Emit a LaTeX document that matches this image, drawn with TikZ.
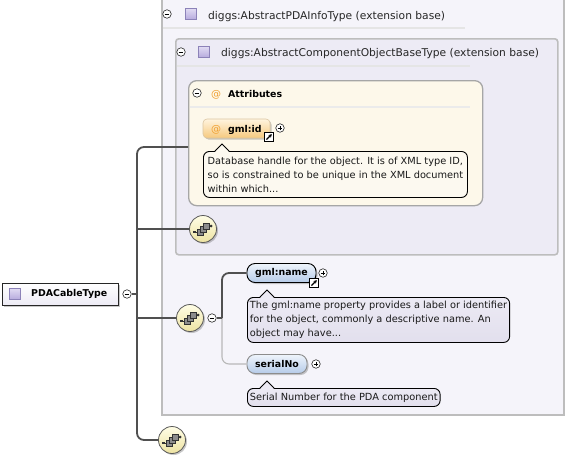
\documentclass[tikz,border=0pt]{standalone}
\usepackage{fontspec}
\setmainfont{DejaVu Sans}
\usetikzlibrary{shadows,arrows.meta}
\definecolor{treegray}{HTML}{505050}
\definecolor{boxgray}{HTML}{BDBDBD}
\definecolor{outerfill}{HTML}{F5F4FA}
\definecolor{innerfill}{HTML}{EDEBF5}
\definecolor{attrfill}{HTML}{FDF8EA}
\definecolor{purptop}{HTML}{E2DCF4}
\definecolor{purpbot}{HTML}{B5A9DC}
\definecolor{purpbord}{HTML}{8C82B8}
\definecolor{seqtop}{HTML}{FFFDE6}
\definecolor{seqbot}{HTML}{EDE3A2}
\definecolor{bluetop}{HTML}{EEF4FC}
\definecolor{bluebot}{HTML}{B6CBE8}
\definecolor{orangetop}{HTML}{FFF4DE}
\definecolor{orangebot}{HTML}{F6C97E}
\definecolor{atcolor}{HTML}{F0A030}
\definecolor{tipcream}{HTML}{FCF9F0}
\definecolor{tiplav}{HTML}{ECEAF4}
\definecolor{tiplavb}{HTML}{E2DFED}
\tikzset{
  treeline/.style={draw=treegray, line width=1.8pt, rounded corners=7pt},
  lightline/.style={draw=black!28, line width=1.1pt, rounded corners=7pt},
  pmc/.style={circle, draw=black!85, fill=white, line width=0.6pt, inner sep=0pt, minimum size=8.5pt},
  linkbox/.style={rectangle, draw=black, fill=white, line width=1pt, inner sep=0pt, minimum size=8.5pt},
  container/.style={rectangle, anchor=north west, line width=1.6pt, draw=boxgray, inner sep=0pt},
  sepline/.style={draw=black!10, line width=1.5pt},
  titletxt/.style={anchor=base west, font=\fontsize{10.7}{13}\selectfont, inner sep=0pt, text=black!85},
  btxt/.style={font=\bfseries\fontsize{9.4}{12}\selectfont, inner sep=0pt},
  purpsq/.style={rectangle, draw=purpbord, line width=0.6pt, top color=purptop, bottom color=purpbot, minimum size=11.5pt, inner sep=0pt},
  softshadow/.style={drop shadow={shadow xshift=1.5pt, shadow yshift=-1.5pt, opacity=0.3, fill=black!70}},
  seqicon/.style={circle, draw=black!65, line width=0.8pt, top color=seqtop, bottom color=seqbot, minimum size=27pt, inner sep=0pt, softshadow},
  tipbox/.style={rectangle, rounded corners=6pt, draw=black, line width=0.9pt, anchor=north west, align=left, inner xsep=2.5pt, inner ysep=2pt, font=\fontsize{9.8}{14}\selectfont, text=black!90},
  elem/.style={rectangle, rounded corners=8pt, draw=black, line width=0.9pt, top color=bluetop, bottom color=bluebot, softshadow, btxt},
  atsign/.style={anchor=base west, inner sep=0pt, text=atcolor, font=\fontsize{10}{12}\selectfont},
}
\newcommand{\mysign}[3]{%
  \node[pmc] (#1) at (#2) {};
  \draw[line width=0.7pt] ([xshift=-2.3pt]#1.center) -- ([xshift=2.3pt]#1.center);
  \ifnum#3=1 \draw[line width=0.7pt] ([yshift=-2.3pt]#1.center) -- ([yshift=2.3pt]#1.center);\fi
}
\newcommand{\linkicon}[2]{%
  \node[linkbox] (#1) at (#2) {};
  \draw[line width=1.1pt, -{Stealth[length=3.2pt,width=3.6pt]}] ([shift={(-2.6pt,-2.6pt)}]#1.center) -- ([shift={(2.8pt,2.8pt)}]#1.center);
}
\newcommand{\seqglyph}[1]{%
  \begin{scope}[shift={(#1.center)}]
    \draw[line width=0.8pt, black!80] (-8,3) -- (-3,3);
    \draw[line width=0.8pt, black!80] (3,-3) -- (8,-3);
    \fill[black!80] (-10,1.6) rectangle (-7.2,4.4);
    \fill[black!80] (8.2,-3) circle (1.5);
    \foreach \a/\b in {-3/3, 0/0, 3/-3}
      \draw[fill=black!45, draw=black!80, line width=0.5pt] ({\a-3.2},{\b-3.2}) rectangle ({\a+3.2},{\b+3.2});
  \end{scope}
}
\newcommand{\tippointer}[3]{% x, top y, fill colour
  \fill[#3] (#1-7,#2+1) -- (#1,#2-7) -- (#1+7,#2+1) -- cycle;
  \draw[line width=0.9pt] (#1-7,#2) -- (#1,#2-7) -- (#1+7,#2);
}
\begin{document}
\begin{tikzpicture}[x=1pt,y=-1pt]
\useasboundingbox[fill=white] (0,0) rectangle (566,459);

% containers
\node[container, fill=outerfill, minimum width=402pt, minimum height=417pt] (outer) at (161,-3) {};
\draw[sepline] (163,28) -- (465,28);
\mysign{om}{167,14}{0}
\node[purpsq] (osq) at (191,14) {};
\node[titletxt] (otitle) at (208,19) {diggs:AbstractPDAInfoType (extension base)};

\node[container, fill=innerfill, rounded corners=3pt, minimum width=382pt, minimum height=216pt] (inner) at (175,38) {};
\draw[sepline] (177,66) -- (470,66);
\mysign{im}{181,52}{0}
\node[purpsq] (isq) at (204,52) {};
\node[titletxt] (ititle) at (221,56.5) {diggs:AbstractComponentObjectBaseType (extension base)};

\node[container, fill=attrfill, draw=black!35, line width=1.3pt, rounded corners=8pt, minimum width=294pt, minimum height=125pt] (attr) at (188,80) {};
\draw[sepline, draw=black!8] (190,107) -- (470,107);
\mysign{am}{197,93}{0}
\node[atsign] (aat) at (211,97) {@};
\node[btxt, anchor=base west] (atitle) at (228,97) {Attributes};

% gml:id attribute
\node[rectangle, rounded corners=4pt, draw=orangebot!80!black!60, line width=0.6pt, top color=orangetop, bottom color=orangebot, minimum width=67pt, minimum height=19pt, inner sep=0pt, softshadow] (gmlid) at (236.5,128.5) {};
\node[atsign] (idat) at (211,132) {@};
\node[btxt, anchor=base west] (idtxt) at (228,132) {gml:id};
\linkicon{link1}{269,137}
\mysign{p1}{280,128}{1}
\node[tipbox, fill=tipcream, minimum width=264pt, minimum height=46pt] (tip1) at (203,151) {Database handle for the object. It is of XML type ID,\\so is constrained to be unique in the XML document\\within which...};
\tippointer{222}{151}{tipcream}

% sequences
\node[seqicon] (seq1) at (203,229) {};
\seqglyph{seq1}
\node[seqicon] (seq2) at (190,318) {};
\seqglyph{seq2}
\node[seqicon] (seq3) at (172,440) {};
\seqglyph{seq3}
\mysign{m2}{212,318}{0}

% root type
\node[rectangle, draw=black!85, line width=0.9pt, top color=white, bottom color=innerfill, minimum width=116pt, minimum height=22pt, inner sep=0pt, softshadow] (pda) at (60,294) {};
\node[purpsq] (pdasq) at (15,294) {};
\node[btxt, anchor=west] (pdatxt) at (31,294) {PDACableType};
\mysign{m1}{127,294}{0}

% trunk
\coordinate (y147) at (0,147);
\coordinate (tA) at (137,229);
\coordinate (tB) at (137,294);
\coordinate (tC) at (137,318);
\draw[treeline] (attr.west |- y147) -- (137,147) -- (137,440) -- (seq3.west);
\draw[treeline] (tA) -- (seq1.west);
\draw[treeline] (m1.east) -- (tB);
\draw[treeline] (tC) -- (seq2.west);

% inner elements
\node[elem, minimum width=69pt, minimum height=19pt, inner sep=0pt] (gmlname) at (281.5,273) {gml:name};
\linkicon{link2}{314,283}
\mysign{p2}{323,273}{1}
\node[tipbox, top color=tiplav, bottom color=tiplavb, minimum height=45pt] (tip2) at (247,297) {The gml:name property provides a label or identifier\\for the object, commonly a descriptive name. An\\object may have...};
\tippointer{267}{297}{tiplav}

\node[elem, draw=black!45, minimum width=60pt, minimum height=19pt, inner sep=0pt] (serial) at (277,364) {serialNo};
\mysign{p3}{316,364}{1}
\node[tipbox, top color=tiplav, bottom color=tiplavb, minimum width=190pt, minimum height=18pt, inner ysep=1pt] (tip3) at (247,388) {Serial Number for the PDA component};
\tippointer{267}{388}{tiplav}

\coordinate (iA) at (222,318);
\draw[lightline] (iA) -- (222,364) -- (serial.west);
\draw[treeline] (gmlname.west) -- (222,273) -- (iA);
\draw[treeline] (m2.east) -- (iA);
\end{tikzpicture}
\end{document}
